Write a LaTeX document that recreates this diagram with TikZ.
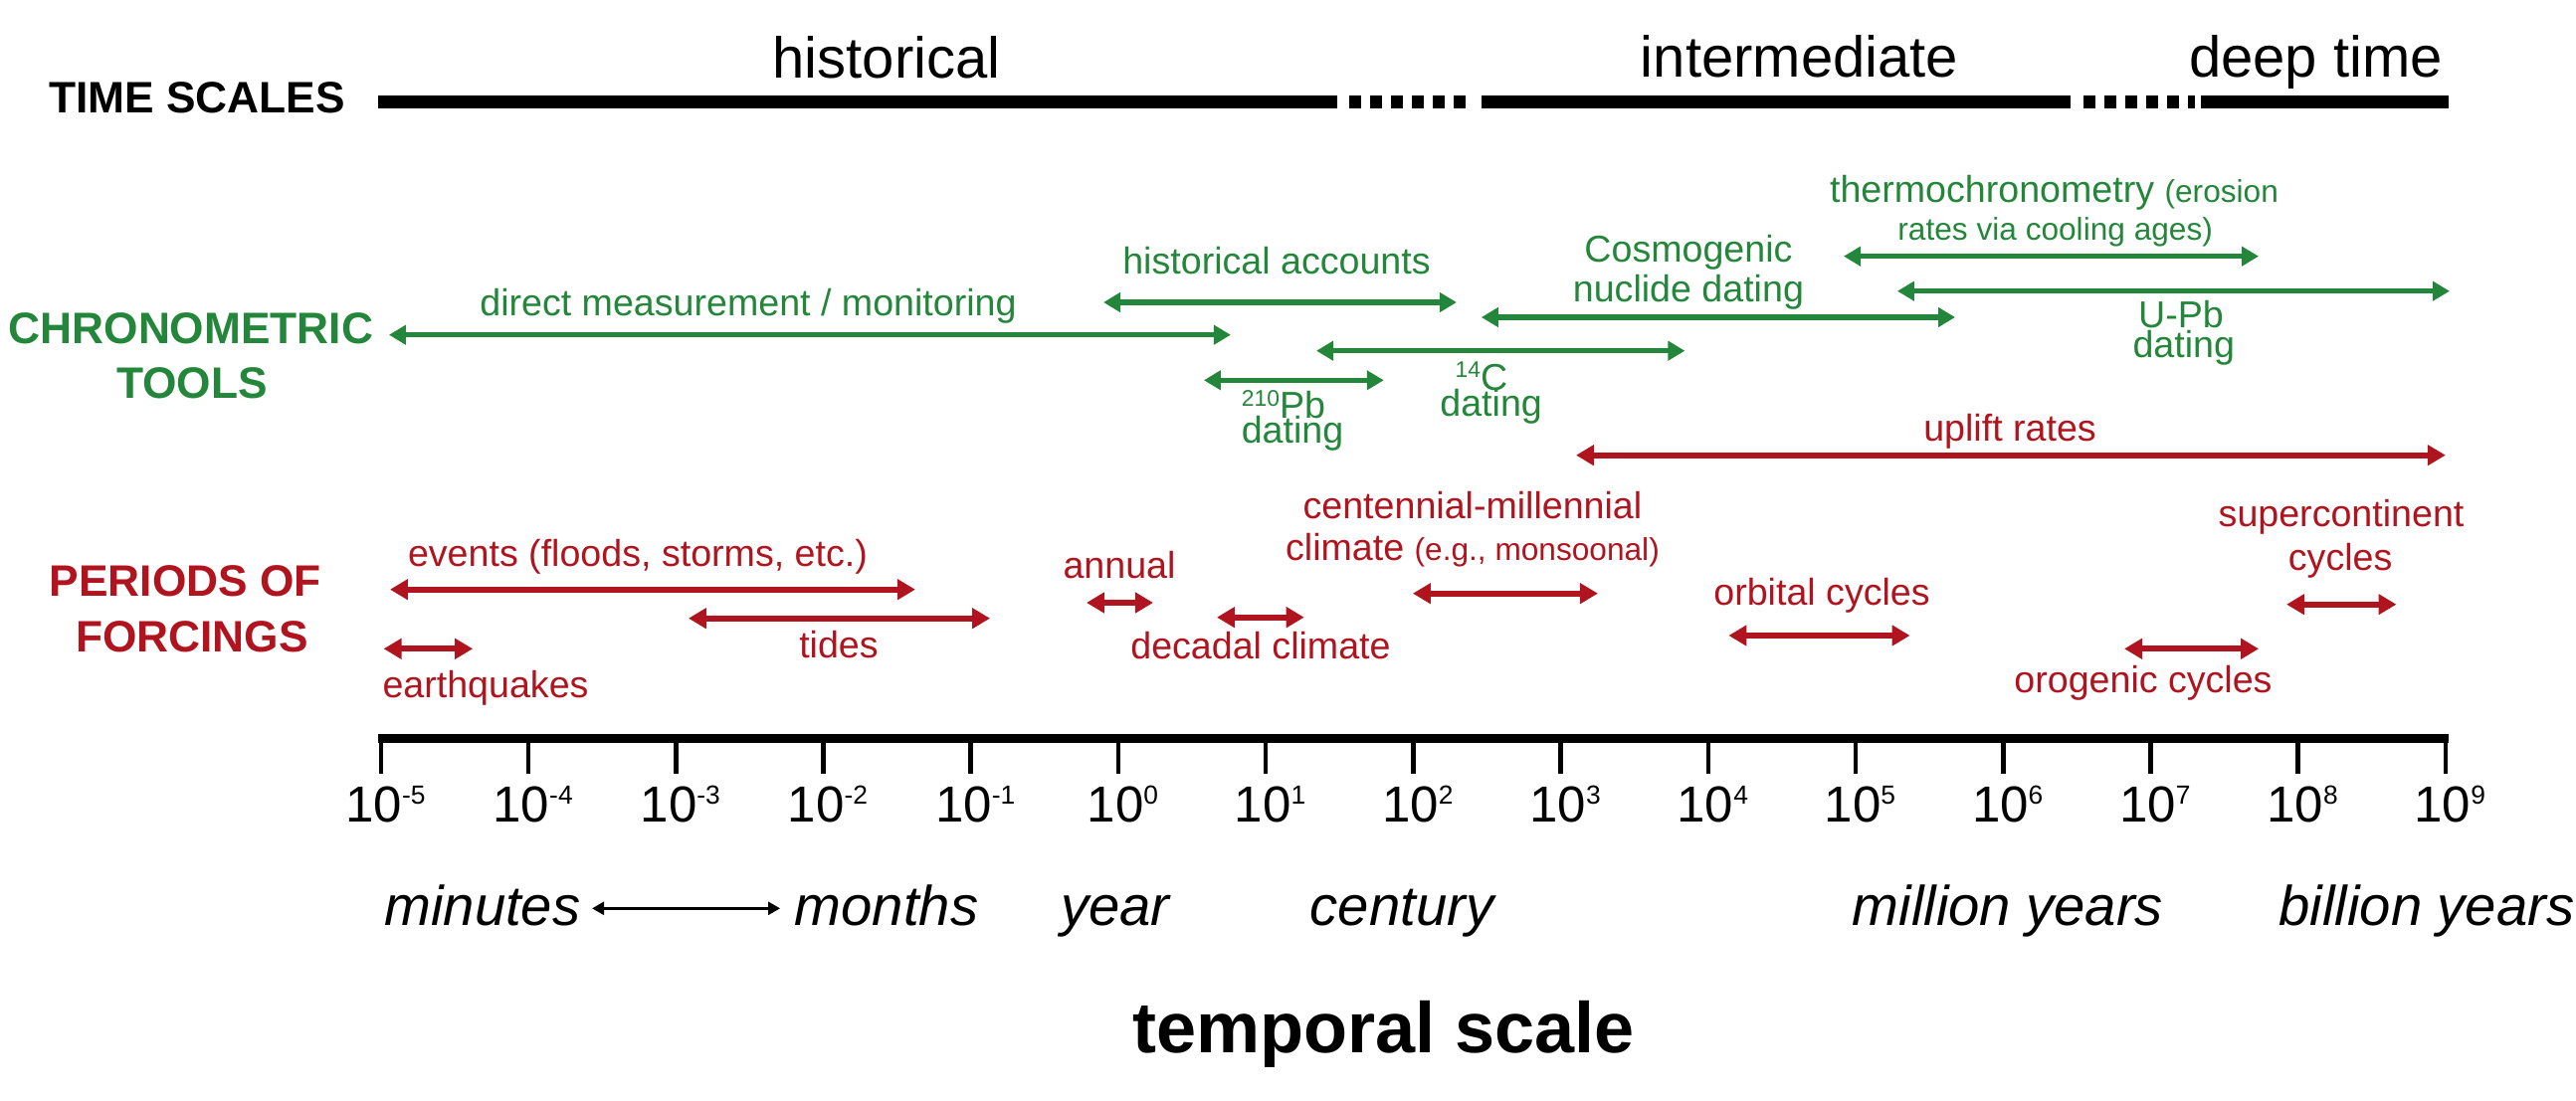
\documentclass[tikz,border=0pt]{standalone}
\usepackage{fontspec}
\setmainfont{Liberation Sans}
\usetikzlibrary{arrows.meta}

\definecolor{toolgreen}{RGB}{36,134,58}
\definecolor{forcered}{RGB}{176,20,30}

\newcommand{\tenpow}[1]{10\raisebox{5pt}{\fontsize{7.5}{8}\selectfont #1}}
\newcommand{\isotope}[2]{\raisebox{3.6pt}{\fontsize{6.5}{7}\selectfont #1}#2}

\tikzset{
  hdr/.style={font=\fontsize{12.6}{14}\selectfont\bfseries, anchor=base, inner sep=0pt},
  scl/.style={font=\fontsize{16.5}{18}\selectfont, anchor=base, inner sep=0pt},
  glab/.style={text=toolgreen, font=\fontsize{10.7}{12}\selectfont, anchor=base, inner sep=0pt},
  rlab/.style={text=forcered, font=\fontsize{10.7}{12}\selectfont, anchor=base, inner sep=0pt},
  grng/.style={toolgreen, line width=1.45pt, {Triangle[length=0.17cm,width=0.19cm]}-{Triangle[length=0.17cm,width=0.19cm]}},
  rrng/.style={forcered, line width=1.75pt, {Triangle[length=0.18cm,width=0.2cm]}-{Triangle[length=0.18cm,width=0.2cm]}},
  tsbar/.style={line width=0.13cm},
  tsdash/.style={line width=0.13cm, dash pattern=on 0.12cm off 0.09cm},
  tck/.style={font=\fontsize{14.5}{16}\selectfont, anchor=base, inner sep=0pt},
  unit/.style={font=\fontsize{16}{18}\selectfont\itshape, anchor=base, inner sep=0pt}
}

\begin{document}
\begin{tikzpicture}[x=1.482cm, y=1cm]
    \useasboundingbox (-7.584,0) rectangle (9.885,11.06);

    % time scales
    \node[hdr] (tsl) at (-6.248,9.92) {TIME SCALES};
    \coordinate (ts0) at (-5.02,10.035);
    \coordinate (ts1) at (1.484,10.035);
    \coordinate (ts2) at (1.565,10.035);
    \coordinate (ts3) at (2.375,10.035);
    \coordinate (ts4) at (2.463,10.035);
    \coordinate (ts5) at (6.457,10.035);
    \coordinate (ts6) at (6.545,10.035);
    \coordinate (ts7) at (7.301,10.035);
    \coordinate (ts8) at (7.341,10.035);
    \coordinate (ts9) at (9.02,10.035);
    \draw[tsbar] (ts0) -- (ts1);
    \draw[tsdash] (ts2) -- (ts3);
    \draw[tsbar] (ts4) -- (ts5);
    \draw[tsdash] (ts6) -- (ts7);
    \draw[tsbar] (ts8) -- (ts9);
    \node[scl] (hist) at (-1.572,10.277) {historical};
    \node[scl] (inter) at (4.619,10.287) {intermediate};
    \node[scl] (deep) at (8.121,10.287) {deep time};

    % chronometric tools
    \node[hdr, text=toolgreen] (chr1) at (-6.289,7.60) {CHRONOMETRIC};
    \node[hdr, text=toolgreen] (chr2) at (-6.282,7.053) {TOOLS};
    \foreach \n/\a/\b/\y in {direct/-4.946/0.762/7.693, histacc/-0.101/2.294/8.02,
        cosmo/2.462/5.675/7.87, cdat/1.343/3.842/7.533, pbdat/0.580/1.800/7.237,
        thermo/4.919/7.733/8.483, upb/5.283/9.028/8.133}
    {
        \coordinate (\n-l) at (\a,\y);
        \coordinate (\n-r) at (\b,\y);
        \draw[grng] (\n-l) -- (\n-r);
    }
    \node[glab] (direct) at (-2.510,7.88) {direct measurement / monitoring};
    \node[glab] (histacc) at (1.073,8.30) {historical accounts};
    \node[glab] (cosmo1) at (3.866,8.427) {Cosmogenic};
    \node[glab] (cosmo2) at (3.866,8.02) {nuclide dating};
    \node[glab] (thermo1) at (6.346,9.027) {thermochronometry {\fontsize{9}{10}\selectfont (erosion}};
    \node[glab, font=\fontsize{9}{10}\selectfont] (thermo2) at (6.354,8.643) {rates via cooling ages)};
    \node[glab] (upb1) at (7.206,7.76) {U-Pb};
    \node[glab] (upb2) at (7.225,7.46) {dating};
    \node[glab] (pb1) at (1.120,6.853) {\isotope{210}{Pb}};
    \node[glab] (pb2) at (1.181,6.61) {dating};
    \node[glab] (c1) at (2.463,7.137) {\isotope{14}{C}};
    \node[glab] (c2) at (2.528,6.877) {dating};

    % periods of forcings
    \node[hdr, text=forcered] (per1) at (-6.326,5.067) {PERIODS OF};
    \node[hdr, text=forcered] (per2) at (-6.282,4.503) {FORCINGS};
    \foreach \n/\a/\b/\y in {uplift/3.104/9.0/6.483, events/-4.939/-1.377/5.133,
        tides/-2.915/-0.870/4.843, quakes/-4.982/-4.378/4.537, annual/-0.216/0.236/5.0,
        decadal/0.668/1.26/4.853, cent/1.997/3.252/5.093, orbital/4.139/5.368/4.67,
        super/7.922/8.667/4.983, orog/6.822/7.733/4.537}
    {
        \coordinate (\n-l) at (\a,\y);
        \coordinate (\n-r) at (\b,\y);
        \draw[rrng] (\n-l) -- (\n-r);
    }
    \node[rlab] (uplift) at (6.046,6.627) {uplift rates};
    \node[rlab] (events) at (-3.259,5.367) {events (floods, storms, etc.)};
    \node[rlab] (tides) at (-1.896,4.443) {tides};
    \node[rlab] (quakes) at (-4.291,4.043) {earthquakes};
    \node[rlab] (annual) at (0.007,5.243) {annual};
    \node[rlab] (decadal) at (0.965,4.433) {decadal climate};
    \node[rlab] (cent1) at (2.402,5.843) {centennial-millennial};
    \node[rlab] (cent2) at (2.402,5.427) {climate {\fontsize{9}{10}\selectfont (e.g., monsoonal)}};
    \node[rlab] (orbital) at (4.771,4.977) {orbital cycles};
    \node[rlab] (super1) at (8.293,5.767) {supercontinent};
    \node[rlab] (super2) at (8.287,5.327) {cycles};
    \node[rlab] (orog) at (6.950,4.093) {orogenic cycles};

    % axis
    \coordinate (ax0) at (-5.02,3.635);
    \coordinate (ax1) at (9.02,3.635);
    \draw[line width=0.09cm] (ax0) -- (ax1);
    \foreach \e in {-5,...,9}
    {
        \draw[line width=1.3pt] (\e,3.635) -- (\e,3.28);
        \node[tck] (t\e) at (\e+0.03,2.80) {\tenpow{\e}};
    }

    \node[unit] (minutes) at (-4.312,1.76) {minutes};
    \node[unit] (months) at (-1.572,1.76) {months};
    \node[unit] (year) at (-0.020,1.76) {year};
    \node[unit] (century) at (1.923,1.76) {century};
    \node[unit] (million) at (6.032,1.76) {million years};
    \node[unit] (billion) at (8.873,1.76) {billion years};
    \draw[line width=0.75pt, {Triangle[length=0.12cm,width=0.13cm]}-{Triangle[length=0.12cm,width=0.13cm]}]
        ([shift={(0.11cm,0.167cm)}]minutes.base east) -- ([shift={(-0.14cm,0.167cm)}]months.base west);

    \node[font=\fontsize{20.5}{24}\selectfont\bfseries, anchor=base, inner sep=0pt] (title) at (1.8,0.48) {temporal scale};
\end{tikzpicture}
\end{document}
